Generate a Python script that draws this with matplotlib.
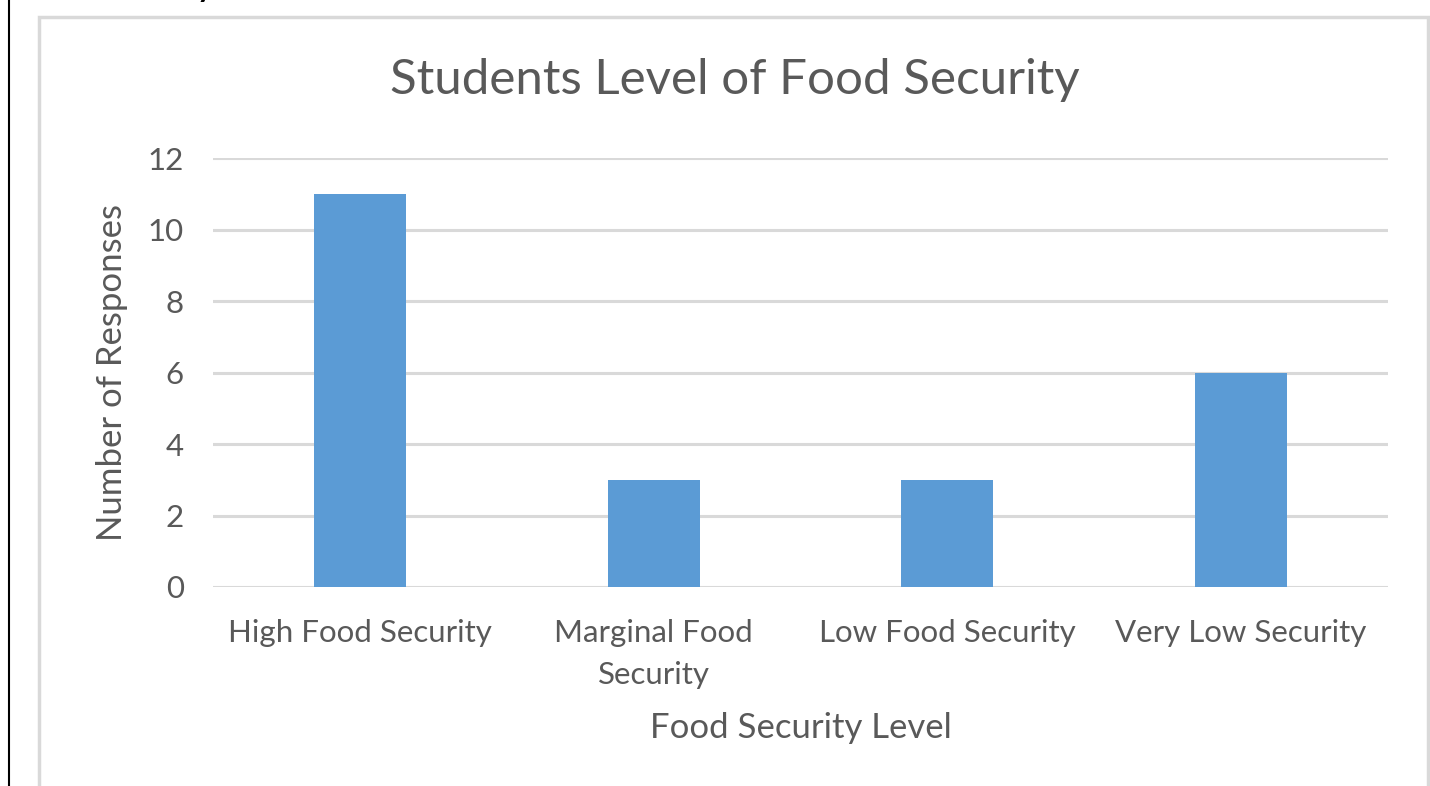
import matplotlib.pyplot as plt
from matplotlib.patches import Rectangle
from matplotlib.lines import Line2D

# data
categories = ['High Food Security', 'Marginal Food\nSecurity', 'Low Food Security', 'Very Low Security']
responses = [11, 3, 3, 6]
y_ticks = [0, 2, 4, 6, 8, 10, 12]

BAR_COLOR = '#5B9BD5'
GRID_COLOR = '#D9D9D9'
TEXT_COLOR = '#595959'

plt.rcParams['font.family'] = ['Lato', 'DejaVu Sans']

W, H = 1430, 786
fig = plt.figure(figsize=(W / 100, H / 100), dpi=100)

# document edge on the left and the chart frame
fig.add_artist(Line2D([9 / W, 9 / W], [0, 1], color='black', lw=1.5))
fig.add_artist(Rectangle((39 / W, -0.05), (1428 - 39) / W, 1.05 - 17 / H,
                         fill=False, edgecolor=GRID_COLOR, lw=2.5))
# cropped word from the page above the chart (cut off in the reference too)
fig.text(205 / W, 1 + 3 / H, 'y', color='black', fontsize=22,
         ha='center', va='baseline', fontweight='bold')

ax = fig.add_axes([213 / W, 1 - 587 / H, 1175 / W, 429 / H])
x = range(len(categories))
ax.bar(x, responses, width=0.313, color=BAR_COLOR, zorder=3)

ax.set_xlim(-0.5, len(categories) - 0.5)
ax.set_ylim(0, 12)
ax.set_yticks(y_ticks)
ax.set_xticks(list(x))
ax.set_xticklabels(categories, linespacing=1.62)
ax.yaxis.grid(True, color=GRID_COLOR, lw=2.2, zorder=0)
ax.set_axisbelow(True)
for s in ax.spines.values():
    s.set_visible(False)
ax.tick_params(axis='both', length=0, colors=TEXT_COLOR, labelsize=22.5)
ax.tick_params(axis='y', pad=21)
ax.tick_params(axis='x', pad=23)

# axis labels placed on their centres
ax.set_ylabel('Number of Responses', color=TEXT_COLOR, fontsize=25, va='center')
ax.yaxis.set_label_coords((112 - 213) / 1175, 0.5)
ax.set_xlabel('Food Security Level', color=TEXT_COLOR, fontsize=25, va='center')
ax.xaxis.set_label_coords((801 - 213) / 1175, (587 - 728) / 429)

fig.text(735 / W, 1 - 80 / H, 'Students Level of Food Security', color=TEXT_COLOR,
         fontsize=35.5, ha='center', va='center')

fig.savefig('out.png', dpi=100)
